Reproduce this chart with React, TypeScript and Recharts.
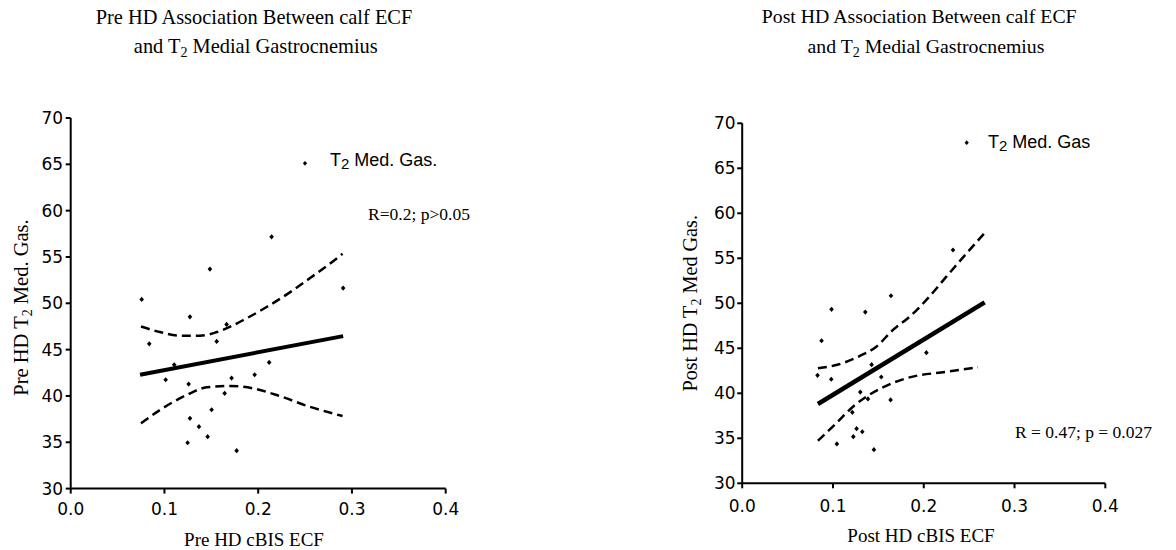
import React from 'react';
import { ComposedChart, Scatter, Line, XAxis, YAxis } from 'recharts';

const xTicks = [0, 0.1, 0.2, 0.3, 0.4];
const yTicks = [30, 35, 40, 45, 50, 55, 60, 65, 70];

const prePoints = [
  { x: 0.0757, y: 50.42 }, { x: 0.2906, y: 51.64 }, { x: 0.1272, y: 48.54 },
  { x: 0.1663, y: 47.72 }, { x: 0.0838, y: 45.63 }, { x: 0.1557, y: 45.89 },
  { x: 0.1104, y: 43.37 }, { x: 0.2117, y: 43.62 }, { x: 0.1013, y: 41.75 },
  { x: 0.1258, y: 41.28 }, { x: 0.1716, y: 41.93 }, { x: 0.1962, y: 42.29 },
  { x: 0.1642, y: 40.28 }, { x: 0.1503, y: 38.51 }, { x: 0.1272, y: 37.58 },
  { x: 0.1368, y: 36.68 }, { x: 0.1461, y: 35.6 }, { x: 0.1247, y: 34.95 },
  { x: 0.177, y: 34.09 }, { x: 0.2143, y: 57.17 }, { x: 0.1485, y: 53.69 },
];
const preFit = [{ x: 0.074, y: 42.29 }, { x: 0.2906, y: 46.46 }];
const preUpper = [
  { x: 0.075, y: 47.5 }, { x: 0.095, y: 46.9 }, { x: 0.117, y: 46.5 },
  { x: 0.138, y: 46.5 }, { x: 0.156, y: 46.9 }, { x: 0.188, y: 48.4 },
  { x: 0.209, y: 49.6 }, { x: 0.237, y: 51.4 }, { x: 0.255, y: 52.7 },
  { x: 0.282, y: 54.7 }, { x: 0.29, y: 55.35 },
];
const preLower = [
  { x: 0.075, y: 37.04 }, { x: 0.0952, y: 38.48 }, { x: 0.1237, y: 40.1 },
  { x: 0.145, y: 40.93 }, { x: 0.1698, y: 41.07 }, { x: 0.1947, y: 40.82 },
  { x: 0.2196, y: 40.1 }, { x: 0.2551, y: 38.83 }, { x: 0.29, y: 37.83 },
];

const postPoints = [
  { x: 0.0874, y: 45.84 }, { x: 0.0984, y: 49.33 }, { x: 0.1356, y: 49.03 },
  { x: 0.1639, y: 50.84 }, { x: 0.083, y: 42.0 }, { x: 0.0981, y: 41.56 },
  { x: 0.1426, y: 43.18 }, { x: 0.1532, y: 41.81 }, { x: 0.2029, y: 44.51 },
  { x: 0.1301, y: 40.14 }, { x: 0.1385, y: 39.37 }, { x: 0.1635, y: 39.26 },
  { x: 0.1213, y: 37.89 }, { x: 0.126, y: 36.07 }, { x: 0.1323, y: 35.73 },
  { x: 0.1224, y: 35.18 }, { x: 0.1043, y: 34.37 }, { x: 0.1451, y: 33.74 },
  { x: 0.2322, y: 55.92 },
];
const postFit = [{ x: 0.0834, y: 38.81 }, { x: 0.2671, y: 50.11 }];
const postUpper = [
  { x: 0.0834, y: 42.78 }, { x: 0.1036, y: 43.14 }, { x: 0.1293, y: 44.14 },
  { x: 0.1477, y: 45.18 }, { x: 0.166, y: 47.03 }, { x: 0.1845, y: 48.51 },
  { x: 0.2029, y: 50.37 }, { x: 0.2249, y: 52.96 }, { x: 0.2487, y: 55.73 },
  { x: 0.267, y: 57.8 },
];
const postLower = [
  { x: 0.0834, y: 34.73 }, { x: 0.1036, y: 36.67 }, { x: 0.122, y: 38.51 },
  { x: 0.1367, y: 39.62 }, { x: 0.155, y: 40.67 }, { x: 0.1808, y: 41.67 },
  { x: 0.2249, y: 42.4 }, { x: 0.2598, y: 42.89 },
];

const SERIF = '"Liberation Serif", "Times New Roman", serif';
const SANS = '"Liberation Sans", Arial, sans-serif';
const TICKFONT = '"DejaVu Sans", Verdana, sans-serif';

const Diamond = (props: any) => {
  const { cx, cy } = props;
  if (cx == null || cy == null) return null;
  return (
    <path
      d={`M${cx},${cy - 2.6}L${cx + 2.3},${cy}L${cx},${cy + 2.6}L${cx - 2.3},${cy}Z`}
      fill="#000"
    />
  );
};

type PanelProps = {
  points: { x: number; y: number }[];
  fit: { x: number; y: number }[];
  upper: { x: number; y: number }[];
  lower: { x: number; y: number }[];
  margin: { top: number; right: number; bottom: number; left: number };
  yWidth: number;
  yTickMargin: number;
  xTickMargin: number;
  fitWidth: number;
};

const Panel = ({ points, fit, upper, lower, margin, yWidth, yTickMargin, xTickMargin, fitWidth }: PanelProps) => (
  <ComposedChart width={460} height={550} margin={margin}>
    <XAxis
      type="number"
      dataKey="x"
      domain={[0, 0.4]}
      ticks={xTicks}
      allowDataOverflow
      tickFormatter={(v: number) => v.toFixed(1)}
      axisLine={{ stroke: '#000', strokeWidth: 2 }}
      tickLine={{ stroke: '#000', strokeWidth: 2 }}
      tickSize={5}
      tickMargin={xTickMargin}
      height={30}
      tick={{ fill: '#000', fontSize: 17, fontFamily: TICKFONT }}
      interval={0}
    />
    <YAxis
      type="number"
      dataKey="y"
      domain={[30, 70]}
      ticks={yTicks}
      allowDataOverflow
      axisLine={{ stroke: '#000', strokeWidth: 2 }}
      tickLine={{ stroke: '#000', strokeWidth: 2 }}
      tickSize={5}
      tickMargin={yTickMargin}
      width={yWidth}
      tick={{ fill: '#000', fontSize: 17, fontFamily: TICKFONT }}
      interval={0}
    />
    <Line data={upper} dataKey="y" type="monotone" stroke="#000" strokeWidth={2.5} strokeDasharray="9 5" dot={false} isAnimationActive={false} />
    <Line data={lower} dataKey="y" type="monotone" stroke="#000" strokeWidth={2.5} strokeDasharray="9 5" dot={false} isAnimationActive={false} />
    <Line data={fit} dataKey="y" type="linear" stroke="#000" strokeWidth={fitWidth} dot={false} isAnimationActive={false} />
    <Scatter data={points} dataKey="y" shape={Diamond} isAnimationActive={false} />
  </ComposedChart>
);

const LegendMarker = ({ x, y }: { x: number; y: number }) => (
  <path d={`M${x},${y - 2.4}L${x + 2.1},${y}L${x},${y + 2.4}L${x - 2.1},${y}Z`} fill="#000" />
);

export default function App() {
  return (
    <div style={{ position: 'absolute', left: 0, top: 0, width: 1176, height: 550, background: '#fff', overflow: 'hidden' }}>
      <div style={{ position: 'absolute', left: 0, top: 0 }}>
        <Panel
          points={prePoints}
          fit={preFit}
          upper={preUpper}
          lower={preLower}
          margin={{ top: 118, right: 14.3, bottom: 31.4, left: 0 }}
          yWidth={70.7}
          yTickMargin={2.5}
          xTickMargin={9.5}
          fitWidth={4}
        />
      </div>
      <div style={{ position: 'absolute', left: 660, top: 0 }}>
        <Panel
          points={postPoints}
          fit={postFit}
          upper={postUpper}
          lower={postLower}
          margin={{ top: 123.3, right: 14.7, bottom: 36.7, left: 0 }}
          yWidth={82.2}
          yTickMargin={1.5}
          xTickMargin={11.5}
          fitWidth={4.5}
        />
      </div>
      <svg
        width={1176}
        height={550}
        style={{ position: 'absolute', left: 0, top: 0, pointerEvents: 'none', whiteSpace: 'pre' }}
      >
        <text x={254} y={24} textAnchor="middle" fontFamily={SERIF} fontSize={20.4} fill="#000">
          Pre HD Association Between calf ECF
        </text>
        <text x={255.8} y={53} textAnchor="middle" fontFamily={SERIF} fontSize={20.4} fill="#000">
          and T<tspan fontSize={14} dy={4}>2</tspan><tspan dy={-4}> Medial Gastrocnemius</tspan>
        </text>
        <text x={919.2} y={23} textAnchor="middle" fontFamily={SERIF} fontSize={19.8} fill="#000">
          Post HD Association Between calf ECF
        </text>
        <text x={926} y={52.5} textAnchor="middle" fontFamily={SERIF} fontSize={19.8} fill="#000">
          and T<tspan fontSize={14} dy={4}>2</tspan><tspan dy={-4}> Medial Gastrocnemius</tspan>
        </text>

        <text transform="translate(28.3,307.5) rotate(-90)" textAnchor="middle" fontFamily={SERIF} fontSize={20.5} fill="#000">
          Pre HD T<tspan fontSize={14} dy={4}>2</tspan><tspan dy={-4}> Med. Gas.</tspan>
        </text>
        <text transform="translate(696.7,303.3) rotate(-90)" textAnchor="middle" fontFamily={SERIF} fontSize={20.2} fill="#000">
          Post HD T<tspan fontSize={14} dy={4}>2</tspan><tspan dy={-4}> Med Gas.</tspan>
        </text>

        <text x={254} y={545.5} textAnchor="middle" fontFamily={SERIF} fontSize={19} fill="#000">
          Pre HD cBIS ECF
        </text>
        <text x={921} y={541.7} textAnchor="middle" fontFamily={SERIF} fontSize={19} fill="#000">
          Post HD cBIS ECF
        </text>

        <LegendMarker x={305} y={163.3} />
        <text x={330} y={166} fontFamily={SANS} fontSize={18} fill="#000">
          T<tspan fontSize={15} dy={2.5}>2</tspan><tspan dy={-2.5}> Med. Gas.</tspan>
        </text>
        <LegendMarker x={966.7} y={142.7} />
        <text x={988} y={148.3} fontFamily={SANS} fontSize={18} fill="#000">
          T<tspan fontSize={15} dy={2.5}>2</tspan><tspan dy={-2.5}> Med. Gas</tspan>
        </text>

        <text x={368} y={219.5} fontFamily={SERIF} fontSize={17.5} fill="#000">
          R=0.2; p&gt;0.05
        </text>
        <text x={1015} y={437.5} fontFamily={SERIF} fontSize={17.5} fill="#000">
          R = 0.47; p = 0.027
        </text>
      </svg>
    </div>
  );
}
